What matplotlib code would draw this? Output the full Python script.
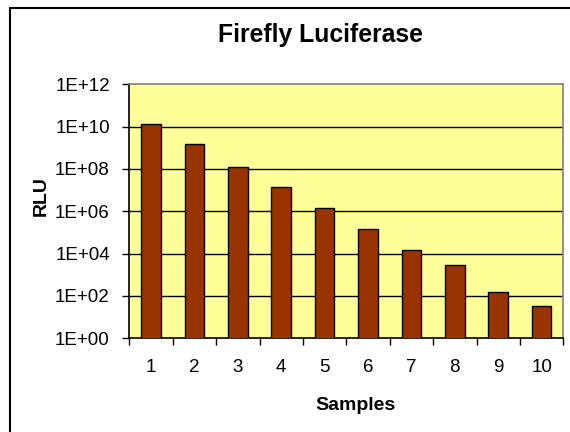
import matplotlib
matplotlib.use("Agg")
import matplotlib.pyplot as plt
from matplotlib.patches import Rectangle
from matplotlib.ticker import FixedLocator, NullFormatter

samples = ["1", "2", "3", "4", "5", "6", "7", "8", "9", "10"]
rlu = [1.3e10, 1.55e9, 1.3e8, 1.35e7, 1.38e6, 1.45e5, 1.44e4, 2.9e3, 149, 35]
ytick_vals = [1e0, 1e2, 1e4, 1e6, 1e8, 1e10, 1e12]
ytick_labels = ["1E+00", "1E+02", "1E+04", "1E+06", "1E+08", "1E+10", "1E+12"]

plt.rcParams['font.family'] = ['Liberation Sans', 'DejaVu Sans']

fig = plt.figure(figsize=(5.7, 4.32), dpi=100)
W, H = 570, 432
ax = fig.add_axes([129.3 / W, (H - 338.3) / H, (563.3 - 129.3) / W, (338.3 - 84.3) / H])
ax.set_facecolor('#FFFF99')

x = list(range(1, len(samples) + 1))
ax.bar(x, rlu, width=0.45, color='#993300', edgecolor='black', linewidth=1.0, zorder=3)
ax.set_yscale('log')
ax.set_ylim(1e0, 1e12)
ax.set_xlim(0.5, len(samples) + 0.5)

ax.yaxis.set_major_locator(FixedLocator(ytick_vals))
ax.set_yticklabels(ytick_labels)
ax.yaxis.set_minor_locator(FixedLocator([]))
ax.yaxis.set_minor_formatter(NullFormatter())
ax.tick_params(axis='y', which='major', length=5, width=1, direction='out',
               labelsize=13.5, pad=9, colors='black')
for v in ytick_vals[1:-1]:
    ax.axhline(v, color='black', linewidth=1.0, zorder=2)

ax.set_xticks(x)
ax.set_xticklabels(samples)
ax.set_xticks([i + 0.5 for i in range(0, len(samples) + 1)], minor=True)
ax.tick_params(axis='x', which='major', length=0, labelsize=13.5, pad=15)
ax.tick_params(axis='x', which='minor', length=5, width=1, direction='out')

ax.spines['left'].set_color('black')
ax.spines['bottom'].set_color('black')
ax.spines['top'].set_color('#808080')
ax.spines['right'].set_color('#808080')
for s in ax.spines.values():
    s.set_linewidth(1.2)

fig.text(320 / W, (H - 35) / H, "Firefly Luciferase", ha='center', va='center',
         fontsize=17.8, fontweight='bold')
fig.text(355 / W, (H - 405) / H, "Samples", ha='center', va='center',
         fontsize=14, fontweight='bold')
fig.text(41.5 / W, (H - 196) / H, "RLU", ha='center', va='center', rotation=90,
         fontsize=14, fontweight='bold')

border = Rectangle((10 / W, -20 / H), (W + 20) / W, (H + 20 - 8) / H,
                   transform=fig.transFigure, fill=False, edgecolor='black',
                   linewidth=1.5, clip_on=False)
fig.patches.append(border)

fig.savefig('out.png', dpi=100)
